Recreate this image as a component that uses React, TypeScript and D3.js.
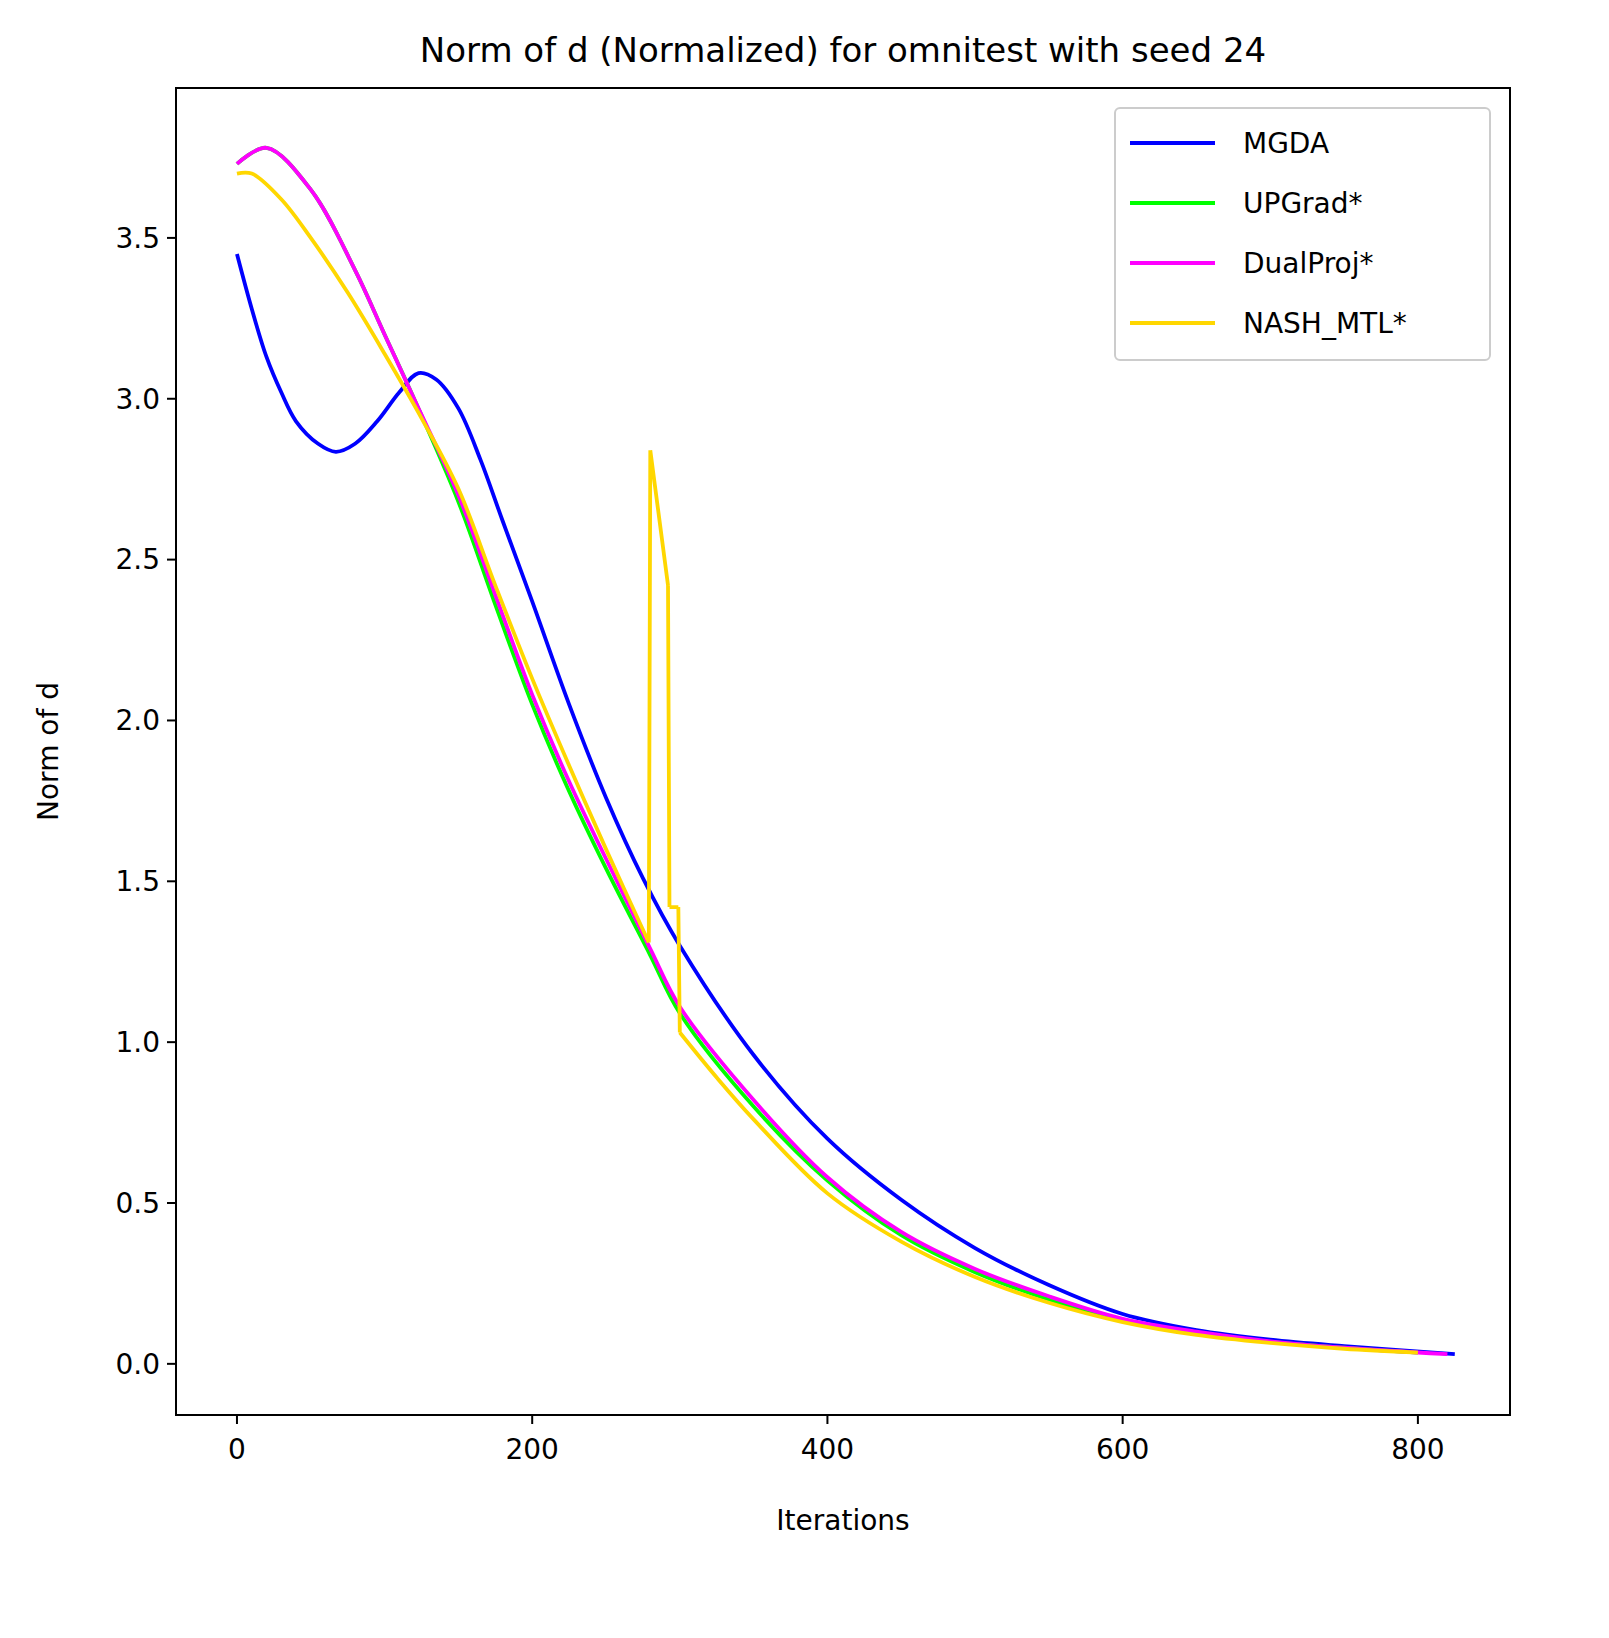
import React from "react";
import * as d3 from "d3";

type Pt = [number, number];

const mgda: Pt[] = [
  [0, 3.45], [10, 3.28], [20, 3.13], [30, 3.02], [40, 2.93], [55, 2.86], [67, 2.835],
  [80, 2.86], [95, 2.93], [110, 3.02], [123, 3.08], [135, 3.06], [150, 2.97], [165, 2.81],
  [180, 2.62], [200, 2.37], [225, 2.05], [250, 1.76], [275, 1.51], [300, 1.3],
  [350, 0.96], [400, 0.7], [450, 0.51], [500, 0.36], [550, 0.245], [600, 0.155],
  [650, 0.105], [700, 0.075], [750, 0.055], [825, 0.03],
];
const upgrad: Pt[] = [
  [0, 3.73], [20, 3.78], [50, 3.65], [80, 3.4], [100, 3.2], [120, 3.0], [150, 2.68],
  [175, 2.36], [200, 2.05], [225, 1.78], [250, 1.54], [280, 1.27], [300, 1.09],
  [350, 0.8], [400, 0.57], [450, 0.4], [500, 0.285], [550, 0.2], [600, 0.135],
  [650, 0.095], [700, 0.068], [750, 0.05], [800, 0.035],
];
const dualproj: Pt[] = [
  [0, 3.73], [20, 3.78], [50, 3.65], [80, 3.4], [100, 3.2], [120, 3.0], [150, 2.7],
  [175, 2.39], [200, 2.08], [225, 1.81], [250, 1.57], [280, 1.29], [300, 1.11],
  [350, 0.82], [400, 0.58], [450, 0.41], [500, 0.295], [550, 0.21], [600, 0.14],
  [650, 0.1], [700, 0.07], [750, 0.05], [820, 0.03],
];
const nash: Pt[] = [
  [0, 3.7], [10, 3.7], [30, 3.62], [50, 3.5], [75, 3.33], [100, 3.14], [125, 2.94],
  [150, 2.72], [175, 2.42], [200, 2.13], [225, 1.86], [250, 1.6], [279, 1.31],
  [280, 2.84], [292, 2.42], [293, 1.42], [299, 1.42], [300, 1.03], [325, 0.89],
  [350, 0.76], [400, 0.53], [450, 0.38], [500, 0.27], [550, 0.19], [600, 0.13],
  [650, 0.09], [700, 0.065], [750, 0.047], [800, 0.035],
];

const series = [
  { name: "MGDA", color: "#0000ff", data: mgda },
  { name: "UPGrad*", color: "#00ff00", data: upgrad },
  { name: "DualProj*", color: "#ff00ff", data: dualproj },
  { name: "NASH_MTL*", color: "#ffd700", data: nash },
];

const xTicks = [0, 200, 400, 600, 800];
const yTicks = [0, 0.5, 1, 1.5, 2, 2.5, 3, 3.5];

const W = 1609, H = 1638;
const L = 176, R = 1510, T = 88, B = 1415;

// split a series where it jumps, so the smooth curve does not overshoot
function segments(data: Pt[]): { pts: Pt[]; smooth: boolean }[] {
  const out: { pts: Pt[]; smooth: boolean }[] = [];
  let cur: Pt[] = [data[0]];
  for (let i = 1; i < data.length; i++) {
    const jump = data[i][0] - data[i - 1][0] <= 1;
    if (jump) {
      out.push({ pts: cur, smooth: true });
      out.push({ pts: [data[i - 1], data[i]], smooth: false });
      cur = [data[i]];
    } else cur.push(data[i]);
  }
  out.push({ pts: cur, smooth: true });
  return out;
}

export default function App() {
  const x = d3.scaleLinear().domain([-41.3, 862.4]).range([L, R]);
  const y = d3.scaleLinear().domain([-0.159, 3.966]).range([B, T]);
  const font = "DejaVu Sans, sans-serif";
  const smooth = d3.line<Pt>().x((d) => x(d[0])).y((d) => y(d[1])).curve(d3.curveCatmullRom);
  const straight = d3.line<Pt>().x((d) => x(d[0])).y((d) => y(d[1]));
  return (
    <svg width={W} height={H} style={{ position: "absolute", left: 0, top: 0 }} fontFamily={font}>
      <rect width={W} height={H} fill="#fff" />
      <defs>
        <clipPath id="c"><rect x={L} y={T} width={R - L} height={B - T} /></clipPath>
      </defs>
      <g clipPath="url(#c)">
        {series.map((s) => {
          const segs = segments(s.data);
          const d = segs.map((g) => (g.smooth ? smooth(g.pts) : straight(g.pts)) || "").join("");
          return <path key={s.name} fill="none" stroke={s.color} strokeWidth={3.8} strokeLinejoin="round" d={d} />;
        })}
      </g>
      <rect x={L} y={T} width={R - L} height={B - T} fill="none" stroke="#000" strokeWidth={2} />
      {xTicks.map((t) => (
        <g key={t} transform={`translate(${x(t)},${B})`}>
          <line y2={9} stroke="#000" strokeWidth={2} />
          <text y={44} textAnchor="middle" fontSize={28}>{t}</text>
        </g>
      ))}
      {yTicks.map((t) => (
        <g key={t} transform={`translate(${L},${y(t)})`}>
          <line x2={-9} stroke="#000" strokeWidth={2} />
          <text x={-16} dy="0.35em" textAnchor="end" fontSize={28}>{t.toFixed(1)}</text>
        </g>
      ))}
      <text x={(L + R) / 2} y={1530} textAnchor="middle" fontSize={28}>Iterations</text>
      <text transform={`translate(58,${(T + B) / 2}) rotate(-90)`} textAnchor="middle" fontSize={28}>Norm of d</text>
      <text x={(L + R) / 2} y={62} textAnchor="middle" fontSize={34}>Norm of d (Normalized) for omnitest with seed 24</text>
      <g>
        <rect x={1115} y={108} width={375} height={252} rx={5} fill="#fff" fillOpacity={0.8} stroke="#ccc" strokeWidth={2} />
        {series.map((s, i) => (
          <g key={s.name} transform={`translate(1130,${143 + i * 60})`}>
            <line x2={85} stroke={s.color} strokeWidth={3.8} />
            <text x={113} dy="0.35em" fontSize={28}>{s.name}</text>
          </g>
        ))}
      </g>
    </svg>
  );
}
